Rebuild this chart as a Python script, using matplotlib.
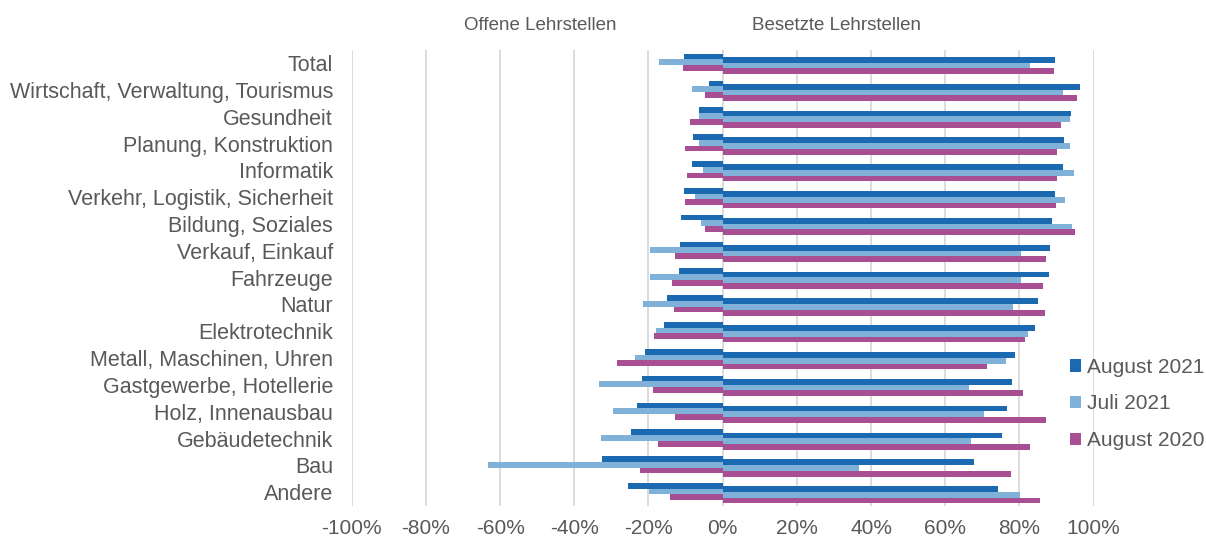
import matplotlib
matplotlib.use("Agg")
import matplotlib.pyplot as plt
from matplotlib.patches import Patch
import numpy as np

categories = ["Total", "Wirtschaft, Verwaltung, Tourismus", "Gesundheit",
              "Planung, Konstruktion", "Informatik", "Verkehr, Logistik, Sicherheit",
              "Bildung, Soziales", "Verkauf, Einkauf", "Fahrzeuge", "Natur",
              "Elektrotechnik", "Metall, Maschinen, Uhren", "Gastgewerbe, Hotellerie",
              "Holz, Innenausbau", "Gebäudetechnik", "Bau", "Andere"]

series_names = ["August 2021", "Juli 2021", "August 2020"]

# Offene Lehrstellen (negative share, %)
offen_aug21 = [-10.3, -3.6, -6.4, -7.9, -8.2, -10.3, -11.2, -11.6, -11.9,
               -14.9, -15.8, -20.9, -21.8, -23.1, -24.6, -32.5, -25.5]
offen_jul21 = [-17.1, -8.2, -6.4, -6.4, -5.2, -7.5, -5.8, -19.6, -19.6,
               -21.6, -17.9, -23.7, -33.4, -29.5, -32.9, -63.3, -19.8]
offen_aug20 = [-10.6, -4.9, -8.8, -10.1, -9.7, -10.1, -4.9, -12.8, -13.7,
               -13.0, -18.5, -28.6, -18.9, -12.8, -17.4, -22.2, -14.3]

# Besetzte Lehrstellen (%)
bes_aug21 = [89.6, 96.3, 93.9, 92.0, 91.6, 89.6, 88.7, 88.3, 88.0,
             85.0, 84.1, 78.9, 78.0, 76.7, 75.2, 67.7, 74.3]
bes_jul21 = [82.8, 91.6, 93.5, 93.5, 94.8, 92.3, 94.2, 80.3, 80.3,
             78.3, 82.3, 76.4, 66.4, 70.4, 67.0, 36.8, 80.1]
bes_aug20 = [89.3, 95.4, 91.1, 90.2, 90.2, 89.8, 95.0, 87.1, 86.3,
             86.8, 81.4, 71.2, 81.0, 87.1, 82.8, 77.6, 85.6]

xticks = [-100, -80, -60, -40, -20, 0, 20, 40, 60, 80, 100]
xticklabels = [f"{v}%" for v in xticks]

colors = ["#1B6AB1", "#80B1D8", "#A84F93"]
text_color = "#595959"
grid_color = "#D9D9D9"

plt.rcParams['font.family'] = ['Liberation Sans', 'DejaVu Sans']

fig = plt.figure(figsize=(12.06, 5.39), dpi=100)
ax = fig.add_axes([351.7 / 1206, 1 - 505.7 / 539, (1093.7 - 351.7) / 1206, (505.7 - 49.6) / 539])

y = np.arange(len(categories))
h = 0.213
left_off = -0.025
right_off = 0.095

for k, vals in enumerate([offen_aug21, offen_jul21, offen_aug20]):
    ax.barh(y + left_off + (k - 1) * h, vals, height=h, color=colors[k],
            edgecolor="none", zorder=3)
for k, vals in enumerate([bes_aug21, bes_jul21, bes_aug20]):
    ax.barh(y + right_off + (k - 1) * h, vals, height=h, color=colors[k],
            edgecolor="none", zorder=3)

ax.set_xlim(-100, 100)
ax.set_ylim(len(categories) - 0.5, -0.5)
ax.set_xticks(xticks)
ax.set_xticklabels(xticklabels)
ax.set_yticks(y)
ax.set_yticklabels(categories)
ax.tick_params(axis="x", length=0, labelsize=15, labelcolor=text_color, pad=9.5)
ax.tick_params(axis="y", length=0, labelsize=15.5, labelcolor=text_color, pad=13.5)
ax.grid(axis="x", color=grid_color, linewidth=1.3, zorder=0)
for s in ax.spines.values():
    s.set_visible(False)

fig.text(540 / 1206, 1 - 26 / 539, "Offene Lehrstellen", ha="center", va="center",
         fontsize=13.5, color=text_color)
fig.text(837 / 1206, 1 - 26 / 539, "Besetzte Lehrstellen", ha="center", va="center",
         fontsize=13.5, color=text_color)

handles = [Patch(facecolor=c, edgecolor="none") for c in colors]
leg = fig.legend(handles, series_names, loc="center left",
                 bbox_to_anchor=(1070 / 1206, 1 - 404 / 539), frameon=False,
                 fontsize=15, handlelength=0.55, handleheight=0.55,
                 handletextpad=0.25, labelspacing=0.85, borderaxespad=0,
                 borderpad=0)
for t in leg.get_texts():
    t.set_color(text_color)

fig.savefig("out.png", dpi=100)
